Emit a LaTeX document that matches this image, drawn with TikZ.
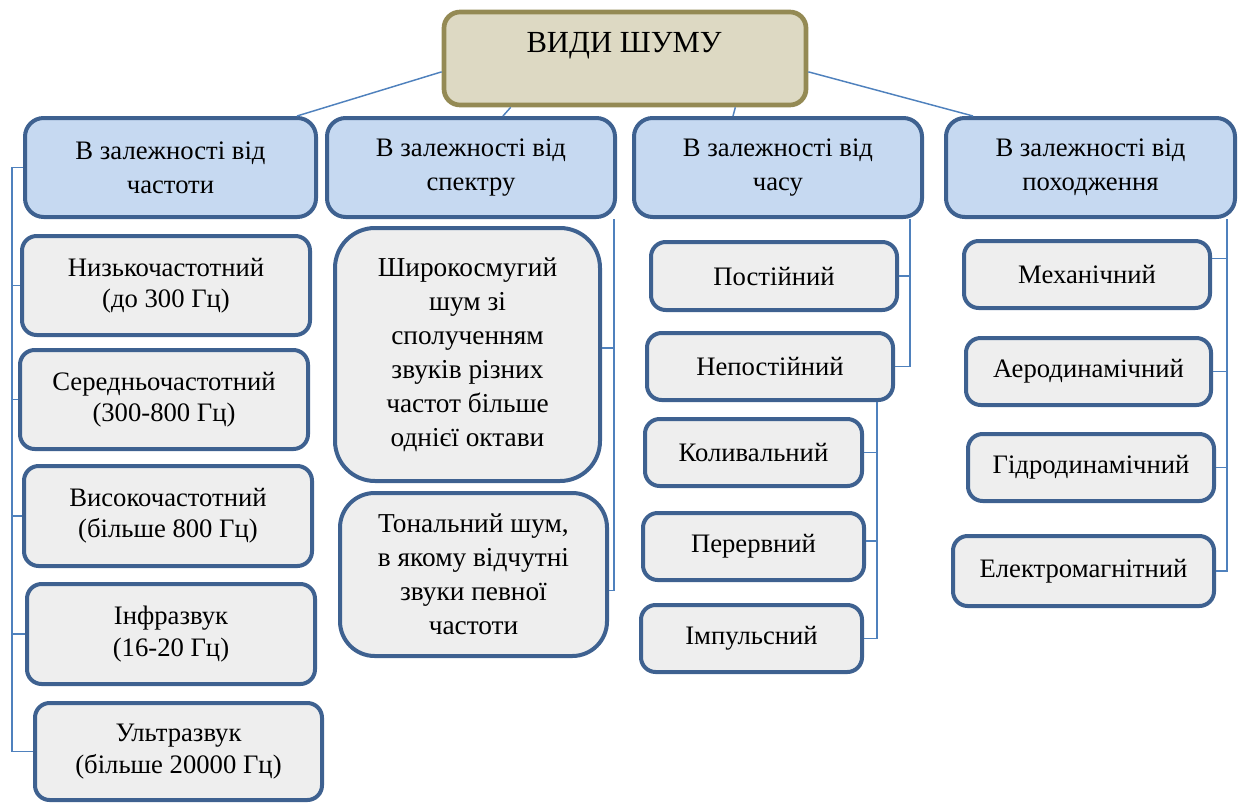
\documentclass[tikz,border=0pt]{standalone}
\usepackage{fontspec}
\setmainfont{Liberation Serif}
\definecolor{bordc}{HTML}{3E6190}
\definecolor{catfill}{HTML}{C6D9F1}
\definecolor{leaffill}{HTML}{EEEEEE}
\definecolor{topfill}{HTML}{DDD9C3}
\definecolor{topbord}{HTML}{948A54}
\definecolor{connc}{HTML}{4F81BD}
\tikzset{
  base/.style={draw=bordc, line width=3pt, inner sep=0pt, align=center},
  cat/.style={base, fill=catfill, rounded corners=14pt, font=\fontsize{20}{25.5}\selectfont},
  leaf/.style={base, fill=leaffill, rounded corners=11pt, font=\fontsize{20}{23.5}\selectfont},
  bigleaf/.style={base, fill=leaffill, rounded corners=30pt, font=\fontsize{20.5}{25.5}\selectfont},
  topbox/.style={draw=topbord, fill=topfill, line width=3.5pt, rounded corners=12pt, inner sep=0pt},
  conn/.style={draw=connc, line width=1.1pt},
  box/.style args={#1/#2/#3/#4}{minimum width={(#3-#1)*0.75pt}, minimum height={(#4-#2)*0.75pt}, at={({(#1+#3)/2},{(#2+#4)/2})}},
}
\begin{document}
\begin{tikzpicture}[x=0.75pt,y=-0.75pt]
\useasboundingbox (0,0) rectangle (1238,803);
% top
\node[topbox, box=444/12/806/105] (top) {};
\node[font=\fontsize{23}{28}\selectfont] (title) at (624,46) {ВИДИ ШУМУ};
% categories
\node[cat, box=25/118/316/217] (c1) {В залежності від\\частоти};
\node[cat, box=327/118/615/217] (c2) {В залежності від\\спектру};
\node[cat, box=634/118/922/217] (c3) {В залежності від\\часу};
\node[cat, box=946/118/1235/217] (c4) {В залежності від\\походження};
% column 1
\node[leaf, box=22/236/310/335] (l1) {Низькочастотний\\(до 300 Гц)};
\node[leaf, box=20/350/308/449] (l2) {Середньочастотний\\(300-800 Гц)};
\node[leaf, box=24/466/312/566] (l3) {Високочастотний\\(більше 800 Гц)};
\node[leaf, box=27/584/315/684] (l4) {Інфразвук\\(16-20 Гц)};
\node[leaf, box=35/703/322/800] (l5) {Ультразвук\\(більше 20000 Гц)};
% column 2
\node[bigleaf, box=335/228/600/481] (s1) {Широкосмугий\\шум зі\\сполученням\\звуків різних\\частот більше\\однієї октави};
\node[bigleaf, rounded corners=26pt, box=340/493/607/656] (s2) {Тональний шум,\\в якому відчутні\\звуки певної\\частоти};
% column 3
\node[leaf, box=651/242/897/310] (t1) {Постійний};
\node[leaf, box=647/333/893/400] (t2) {Непостійний};
\node[leaf, box=645/419/862/486] (t3) {Коливальний};
\node[leaf, box=643/513/864/580] (t4) {Перервний};
\node[leaf, box=641/605/862/672] (t5) {Імпульсний};
% column 4
\node[leaf, box=964/241/1210/308] (o1) {Механічний};
\node[leaf, box=966/338/1211/405] (o2) {Аеродинамічний};
\node[leaf, box=968/434/1214/501] (o3) {Гідродинамічний};
\node[leaf, box=953/536/1214/606] (o4) {Електромагнітний};
% bracket coordinates
\coordinate (b1) at (12,0);
\coordinate (b2) at (614,0);
\coordinate (b3) at (910,0);
\coordinate (b4) at (877,0);
\coordinate (b5) at (1227,0);
\coordinate (s2t) at ([yshift=-12pt]s2.east);
\coordinate (s1t) at ([yshift=5pt]s1.east);
\coordinate (t4t) at ([yshift=4pt]t4.east);
\coordinate (o1t) at ([yshift=12pt]o1.east);
% connectors from top
\draw[conn] ([yshift=-10pt]top.west) -- ([xshift=-15.75pt]c1.north east);
\draw[conn] ([xshift=51.75pt]top.south west) -- ([xshift=133.5pt]c2.north west);
\draw[conn] ([xshift=-54.75pt]top.south east) -- ([xshift=75.75pt]c3.north west);
\draw[conn] ([yshift=-10pt]top.east) -- ([xshift=21.75pt]c4.north west);
% column 1 bracket
\draw[conn] (c1.west) -- (c1.west -| b1) -- (b1 |- l5.west) -- (l5.west);
\foreach \n in {l1,l2,l3,l4} \draw[conn] (\n.west) -- (\n.west -| b1);
% column 2 bracket
\draw[conn] (b2 |- c2.south) -- (b2 |- s2t) -- (s2t);
\draw[conn] (s1t) -- (s1t -| b2);
% column 3 brackets
\draw[conn] (b3 |- c3.south) -- (b3 |- t2.east) -- (t2.east);
\draw[conn] (t1.east) -- (t1.east -| b3);
\draw[conn] (b4 |- t2.south) -- (b4 |- t5.east) -- (t5.east);
\draw[conn] (t3.east) -- (t3.east -| b4);
\draw[conn] (t4t) -- (t4t -| b4);
% column 4 bracket
\draw[conn] (b5 |- c4.south) -- (b5 |- o4.east) -- (o4.east);
\draw[conn] (o1t) -- (o1t -| b5);
\draw[conn] (o2.east) -- (o2.east -| b5);
\draw[conn] (o3.east) -- (o3.east -| b5);
\end{tikzpicture}
\end{document}
